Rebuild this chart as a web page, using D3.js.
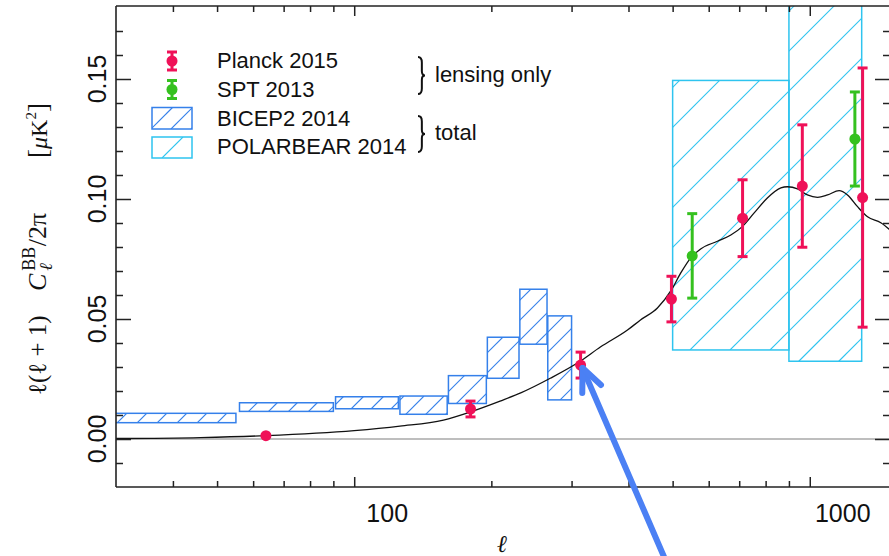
<!DOCTYPE html>
<html>
<head>
<meta charset="utf-8">
<script src="https://cdn.jsdelivr.net/npm/d3@7"></script>
<style>
  html, body { margin: 0; padding: 0; background: #fff; }
  svg { display: block; }
</style>
</head>
<body>
<svg id="chart" width="889" height="556"></svg>
<script>
// Lensing B-mode theory spectrum, l(l+1)C_l^BB/2pi in uK^2
const theoryEll = [30, 46, 64, 100, 126, 157, 180, 209, 232, 270, 314, 347, 398, 425, 463, 497, 521, 548, 576, 627, 671, 711, 755, 807, 864, 893, 940, 988, 1040, 1094, 1160, 1210, 1273, 1339, 1432, 1500];
const theoryDl  = [0.0002, 0.0006, 0.0014, 0.0035, 0.0054, 0.0079, 0.0113, 0.0158, 0.0192, 0.0254, 0.0325, 0.0383, 0.0454, 0.0496, 0.0546, 0.0621, 0.0692, 0.0755, 0.0792, 0.0824, 0.0850, 0.0885, 0.0942, 0.1004, 0.1046, 0.1051, 0.1042, 0.1017, 0.1007, 0.1017, 0.1035, 0.1017, 0.0968, 0.0926, 0.0901, 0.0871];

// Planck 2015 lensing-only band powers
const planckEll = [64, 180, 314, 497, 712, 963, 1306];
const planckVal = [0.0014, 0.0125, 0.0308, 0.0583, 0.0920, 0.1054, 0.1006];
const planckErr = [0.0000, 0.0033, 0.0054, 0.0095, 0.0160, 0.0255, 0.0540];

// SPT 2013 lensing-only band powers
const sptEll = [552, 1256];
const sptVal = [0.0763, 0.1250];
const sptErr = [0.0176, 0.0196];

// BICEP2 2014 total BB band powers (bin edges and 1-sigma range)
const bicepLo  = [20, 56, 91, 126, 161, 196, 231, 266];
const bicepHi  = [55, 90, 125, 160, 195, 230, 265, 300];
const bicepMin = [0.0068, 0.0115, 0.0126, 0.0103, 0.0148, 0.0253, 0.0395, 0.0163];
const bicepMax = [0.0107, 0.0151, 0.0176, 0.0179, 0.0264, 0.0424, 0.0624, 0.0513];

// POLARBEAR 2014 total BB band powers
const pbLo  = [500, 900];
const pbHi  = [900, 1300];
const pbMin = [0.0371, 0.0324];
const pbMax = [0.1494, 0.2600];

// Axis ticks
const yMajor = [0, 0.05, 0.10, 0.15];
const yMinor = [-0.01, 0.01, 0.02, 0.03, 0.04, 0.06, 0.07, 0.08, 0.09, 0.11, 0.12, 0.13, 0.14, 0.16, 0.17];
const yTickLabels = ["0.00", "0.05", "0.10", "0.15"];
const xMajor = [100, 1000];
const xMinor = [40, 50, 60, 70, 80, 90, 200, 300, 400, 500, 600, 700, 800, 900];
const xTickLabels = ["100", "1000"];

// Legend entries
const legendNames = ["Planck 2015", "SPT 2013", "BICEP2 2014", "POLARBEAR 2014"];
const groupNames = ["lensing only", "total"];

const RED = "#ef1158", GREEN = "#35c11f", BLUE = "#3580ea", CYAN = "#2ec4ef", ARROW = "#4b80f4";
const SANS = "'Liberation Sans', Arial, Helvetica, sans-serif";
const SERIF = "'Liberation Serif', 'DejaVu Serif', 'Times New Roman', serif";

const L = 116, R = 890, T = 7, B = 487;
const x = d3.scaleLog().domain([30, 1500]).range([L, R]);
const y = d3.scaleLinear().domain([-0.02, 0.18]).range([B, T]);

const svg = d3.select("#chart");
const defs = svg.append("defs");
let clipCount = 0;

// Box with 45-degree hatching; hatch lines are aligned on a global grid x + y = k * spacing
function hatchedBox(g, x0, y0, x1, y1, spacing, color) {
  const id = "hclip" + (clipCount++);
  defs.append("clipPath").attr("id", id)
    .append("rect").attr("x", x0).attr("y", y0).attr("width", x1 - x0).attr("height", y1 - y0);
  const hg = g.append("g").attr("clip-path", `url(#${id})`);
  const kMin = Math.floor((x0 + y0) / spacing), kMax = Math.ceil((x1 + y1) / spacing);
  for (let k = kMin; k <= kMax; k++) {
    const c = k * spacing;
    hg.append("line")
      .attr("x1", c - y1).attr("y1", y1).attr("x2", c - y0).attr("y2", y0)
      .attr("stroke", color).attr("stroke-width", 1.1);
  }
  g.append("rect").attr("x", x0).attr("y", y0).attr("width", x1 - x0).attr("height", y1 - y0)
    .attr("fill", "none").attr("stroke", color).attr("stroke-width", 1.5);
}

defs.append("clipPath").attr("id", "plotClip")
  .append("rect").attr("x", L).attr("y", T - 1).attr("width", R - L).attr("height", B - T + 1);

const plot = svg.append("g").attr("clip-path", "url(#plotClip)");

// zero line
plot.append("line")
  .attr("x1", L).attr("x2", R).attr("y1", y(0)).attr("y2", y(0))
  .attr("stroke", "#a8a8a8").attr("stroke-width", 1.5);

// POLARBEAR boxes
pbLo.forEach((lo, i) => {
  hatchedBox(plot, x(lo), y(pbMax[i]), x(pbHi[i]), y(pbMin[i]), 40, CYAN);
});

// BICEP2 boxes
bicepLo.forEach((lo, i) => {
  hatchedBox(plot, x(lo), y(bicepMax[i]), x(bicepHi[i]), y(bicepMin[i]), 20, BLUE);
});

// theory curve
const line = d3.line().x(i => x(theoryEll[i])).y(i => y(theoryDl[i])).curve(d3.curveMonotoneX);
plot.append("path").datum(d3.range(theoryEll.length))
  .attr("d", line).attr("fill", "none").attr("stroke", "#111").attr("stroke-width", 1.3);

// points with error bars
function points(g, xs, vs, es, color) {
  const grp = g.append("g");
  xs.forEach((l, i) => {
    const cx = x(l), lo = y(vs[i] - es[i]), hi = y(vs[i] + es[i]);
    grp.append("line").attr("x1", cx).attr("x2", cx).attr("y1", lo).attr("y2", hi)
      .attr("stroke", color).attr("stroke-width", 3);
    [lo, hi].forEach(yy => grp.append("line")
      .attr("x1", cx - 5).attr("x2", cx + 5).attr("y1", yy).attr("y2", yy)
      .attr("stroke", color).attr("stroke-width", 3));
    grp.append("circle").attr("cx", cx).attr("cy", y(vs[i])).attr("r", 5.5).attr("fill", color);
  });
}
points(plot, planckEll, planckVal, planckErr, RED);
points(plot, sptEll, sptVal, sptErr, GREEN);

// frame
const frame = svg.append("g").attr("stroke", "#222").attr("stroke-width", 1.6);
frame.append("line").attr("x1", L).attr("x2", L).attr("y1", T - 1).attr("y2", B);
frame.append("line").attr("x1", L).attr("x2", R).attr("y1", B).attr("y2", B);
frame.append("line").attr("x1", L).attr("x2", R).attr("y1", T - 1).attr("y2", T - 1);
frame.append("line").attr("x1", R).attr("x2", R).attr("y1", T - 1).attr("y2", B);

// ticks (inward on all four sides)
function ticks(axisGen, vals, size, tx, ty) {
  const g = svg.append("g").attr("transform", `translate(${tx},${ty})`)
    .call(axisGen.tickValues(vals).tickSize(size).tickFormat(""));
  g.select(".domain").remove();
  g.selectAll(".tick line").attr("stroke", "#222").attr("stroke-width", 1.5);
}
ticks(d3.axisLeft(y), yMajor, -15, L, 0);
ticks(d3.axisLeft(y), yMinor, -7, L, 0);
ticks(d3.axisRight(y), yMajor, -15, R, 0);
ticks(d3.axisRight(y), yMinor, -7, R, 0);
ticks(d3.axisBottom(x), xMajor, -10, 0, B);
ticks(d3.axisBottom(x), xMinor, -6, 0, B);
ticks(d3.axisTop(x), xMajor, -10, 0, T - 1);
ticks(d3.axisTop(x), xMinor, -6, 0, T - 1);

// tick labels
yMajor.forEach((v, i) => {
  svg.append("text")
    .attr("transform", `translate(106,${y(v)}) rotate(-90)`)
    .attr("text-anchor", "middle")
    .attr("font-family", SANS).attr("font-size", 25).attr("fill", "#111")
    .text(yTickLabels[i]);
});
xMajor.forEach((v, i) => {
  svg.append("text")
    .attr("x", x(v) + 33).attr("y", 522)
    .attr("text-anchor", "middle")
    .attr("font-family", SANS).attr("font-size", 25).attr("fill", "#111")
    .text(xTickLabels[i]);
});

// axis titles
svg.append("text").attr("x", 502).attr("y", 552).attr("text-anchor", "middle")
  .attr("font-family", SERIF).attr("font-style", "italic").attr("font-size", 24).attr("fill", "#111")
  .text("ℓ");

const yl = svg.append("g").attr("transform", "translate(46,0) rotate(-90)")
  .attr("font-family", SERIF).attr("fill", "#111");
yl.append("text").attr("x", -395).attr("y", 0).attr("font-size", 25)
  .text("ℓ(ℓ + 1)");
const t2 = yl.append("text").attr("x", -291).attr("y", 0).attr("font-size", 26);
t2.append("tspan").attr("font-style", "italic").text("C");
t2.append("tspan").attr("font-size", 18).attr("dx", 3).attr("dy", -11).text("BB");
t2.append("tspan").attr("font-size", 18).attr("font-style", "italic").attr("dx", -24).attr("dy", 17).text("ℓ");
t2.append("tspan").attr("dx", 17).attr("dy", -6).text("/2π");
const t3 = yl.append("text").attr("x", -158).attr("y", 1).attr("font-size", 24);
t3.append("tspan").attr("font-size", 27).text("[");
t3.append("tspan").attr("font-style", "italic").text("μ");
t3.append("tspan").text("K");
t3.append("tspan").attr("font-size", 15).attr("dy", -11).text("2");
t3.append("tspan").attr("font-size", 27).attr("dy", 11).text("]");

// legend
const leg = svg.append("g").attr("font-family", SANS).attr("font-size", 22).attr("fill", "#111");
const legY = [61, 89.5];
const legBase = [68, 97, 126, 154];
[RED, GREEN].forEach((c, i) => {
  const cx = 172, cy = legY[i], h = 9;
  leg.append("line").attr("x1", cx).attr("x2", cx).attr("y1", cy - h).attr("y2", cy + h)
    .attr("stroke", c).attr("stroke-width", 3);
  [cy - h, cy + h].forEach(yy => leg.append("line").attr("x1", cx - 5).attr("x2", cx + 5)
    .attr("y1", yy).attr("y2", yy).attr("stroke", c).attr("stroke-width", 3));
  leg.append("circle").attr("cx", cx).attr("cy", cy).attr("r", 5.5).attr("fill", c);
});
hatchedBox(leg, 152, 107.5, 192, 129, 20, BLUE);
hatchedBox(leg, 152, 137, 192, 158, 40, CYAN);
legendNames.forEach((n, i) => {
  leg.append("text").attr("x", 217).attr("y", legBase[i]).text(n);
});

// braces grouping the legend entries
function brace(xb, y0, y1) {
  const w = 7, h = y1 - y0, ym = (y0 + y1) / 2;
  return `M${xb},${y0} Q${xb + w * 0.55},${y0} ${xb + w * 0.55},${y0 + h * 0.15}` +
    ` L${xb + w * 0.55},${ym - h * 0.12} Q${xb + w * 0.55},${ym} ${xb + w},${ym}` +
    ` Q${xb + w * 0.55},${ym} ${xb + w * 0.55},${ym + h * 0.12}` +
    ` L${xb + w * 0.55},${y1 - h * 0.15} Q${xb + w * 0.55},${y1} ${xb},${y1}`;
}
leg.append("path").attr("d", brace(418, 57, 94)).attr("fill", "none").attr("stroke", "#111").attr("stroke-width", 2);
leg.append("path").attr("d", brace(418, 116, 152)).attr("fill", "none").attr("stroke", "#111").attr("stroke-width", 2);
leg.append("text").attr("x", 435).attr("y", 82).text(groupNames[0]);
leg.append("text").attr("x", 435).attr("y", 140).text(groupNames[1]);

// arrow pointing at the Planck band power near l ~ 300
const tipX = x(planckEll[2]) + 2, tipY = y(planckVal[2]) + 3;
const dir = [0.396, 0.918];
const arrow = svg.append("g").attr("stroke", ARROW).attr("stroke-width", 6)
  .attr("stroke-linecap", "round").attr("fill", "none");
arrow.append("line").attr("x1", tipX).attr("y1", tipY)
  .attr("x2", tipX + dir[0] * 230).attr("y2", tipY + dir[1] * 230);
const ang = Math.atan2(dir[1], dir[0]);
[0.42, -0.42].forEach(da => {
  arrow.append("line").attr("x1", tipX).attr("y1", tipY)
    .attr("x2", tipX + 25 * Math.cos(ang + da)).attr("y2", tipY + 25 * Math.sin(ang + da));
});
</script>
</body>
</html>
